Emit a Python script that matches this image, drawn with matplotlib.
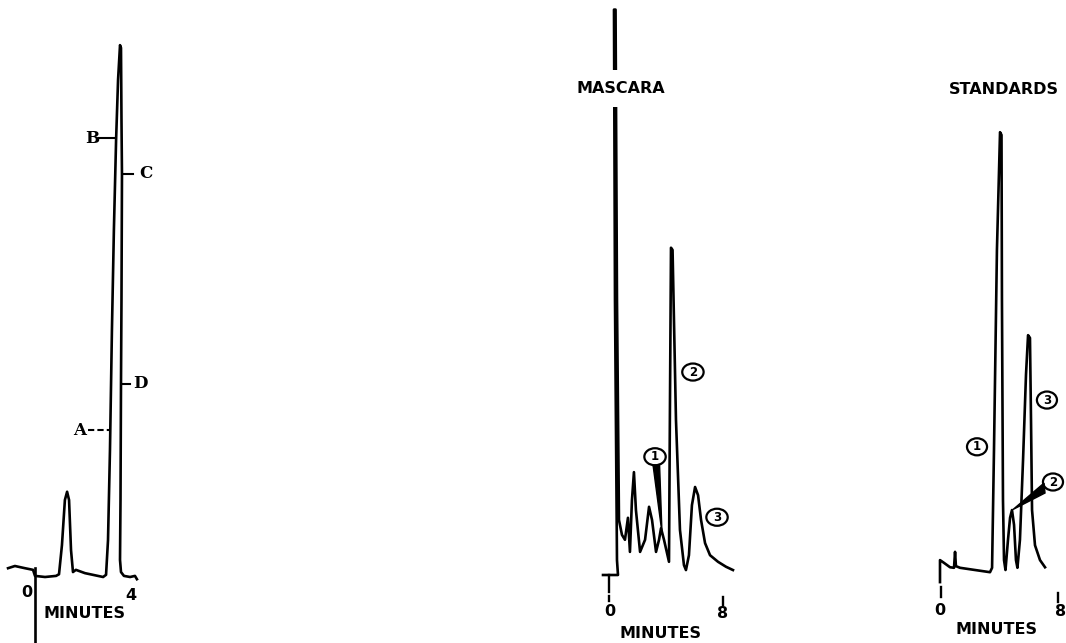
import matplotlib.pyplot as plt
from matplotlib.patches import Ellipse, Polygon

W, H = 1066, 643

# --- trace data: time in minutes, detector signal in chart units ---
p1_time = [-1.10, -0.82, -0.41, -0.08, 0.0, 0.41, 0.86, 0.98, 1.10, 1.22, 1.31,
           1.39, 1.47, 1.55, 1.67, 2.04, 2.78, 2.90, 2.98, 3.06, 3.14, 3.22,
           3.31, 3.39, 3.47, 3.51, 3.53, 3.55, 3.53, 3.51, 3.49, 3.47, 3.51,
           3.63, 3.88, 4.08, 4.16]
p1_signal = [1.6, 2.0, 1.6, 1.3, 0.2, 0.0, 0.2, 0.5, 5.8, 14.0, 15.5,
             14.0, 4.9, 0.9, 1.3, 0.7, 0.0, 0.4, 6.7, 23.1, 44.9, 63.1,
             79.5, 90.4, 96.7, 96.2, 83.1, 73.1, 50.4, 35.3, 14.0, 3.1, 0.9,
             0.2, 0.0, 0.2, -0.4]

mascara_time = [-0.42, 0.63, 0.56, 0.42, 0.35, 0.46, 0.56, 0.70, 0.91, 1.12,
                1.33, 1.47, 1.61, 1.75, 1.89, 2.18, 2.53, 2.81, 3.02, 3.30,
                3.51, 3.65, 3.86, 4.21, 4.28, 4.35, 4.46, 4.70, 4.98, 5.26,
                5.40, 5.61, 5.82, 6.04, 6.25, 6.46, 6.74, 7.09, 7.65, 8.21, 8.70]
mascara_signal = [0, 0, 2.7, 50, 102.8, 102.8, 50, 10.0, 7.3, 6.4,
                  10.4, 4.2, 13.6, 18.7, 11.8, 4.2, 6.4, 12.4, 10.0, 4.2,
                  6.4, 8.5, 6.4, 2.4, 31.8, 59.5, 59.1, 28.2, 8.2, 1.8,
                  0.9, 3.6, 12.7, 16.0, 14.5, 10.0, 5.8, 3.6, 2.4, 1.5, 0.9]

std_time = [0, 0, 0.27, 0.68, 0.95, 1.02, 1.08, 1.36, 2.37, 3.39, 3.53, 3.66,
            3.86, 4.07, 4.17, 4.20, 4.27, 4.34, 4.44, 4.61, 4.75, 4.88, 5.02,
            5.15, 5.25, 5.42, 5.63, 5.83, 5.97, 6.10, 6.17, 6.24, 6.44, 6.78, 7.12]
std_signal = [-2.2, 1.8, 1.3, 0.5, 0.4, 3.3, 0.7, 0.4, 0, -0.4, 0.4, 21.8,
              58.2, 79.6, 79.1, 49.1, 12.7, 1.8, 0, 5.5, 9.5, 10.9, 8.2,
              1.8, 0.4, 5.5, 20.0, 35.5, 42.7, 42.2, 27.3, 10.9, 4.5, 1.8, 0.5]

# --- annotations ---
p1_marks = ["A", "B", "C", "D"]
p1_mark_xy = [(1.84, 26.7), (2.33, 79.8), (4.53, 73.3), (4.29, 35.1)]
p1_mark_dash = [(2.16, 3.06), (2.61, 3.27), (3.63, 4.00), (3.55, 3.88)]

mascara_peaks = ["1", "2", "3"]
mascara_peak_xy = [(3.23, 21.5), (5.89, 36.9), (7.58, 10.5)]
std_peaks = ["1", "2", "3"]
std_peak_xy = [(2.51, 22.4), (7.66, 16.0), (7.25, 30.9)]

fig = plt.figure(figsize=(W / 100, H / 100), dpi=100)
fig.patch.set_facecolor("white")


def panel_axes(x0_px, px_per_min, y0_px, px_per_unit):
    ax = fig.add_axes([0, 0, 1, 1])
    ax.set_xlim(-x0_px / px_per_min, (W - x0_px) / px_per_min)
    ax.set_ylim((y0_px - H) / px_per_unit, y0_px / px_per_unit)
    ax.axis("off")
    ax.patch.set_alpha(0)
    return ax


lw = 1.9
sans = dict(family="DejaVu Sans", weight="bold", fontsize=11.5, color="black")
serif = dict(family="DejaVu Serif", weight="bold", fontsize=12, color="black")
digit = dict(family="DejaVu Sans", weight="bold", fontsize=8.5,
             ha="center", va="center")

# ---------------- left panel ----------------
ax1 = panel_axes(35, 24.5, 577, 5.5)
ax1.plot(p1_time, p1_signal, color="black", lw=lw, solid_joinstyle="round")
ax1.plot([0, 0], [1.6, -13], color="black", lw=lw)
for lab, (x, y), (d0, d1) in zip(p1_marks, p1_mark_xy, p1_mark_dash):
    ax1.text(x, y, lab, ha="center", va="center", **serif)
    if lab == "A":
        ax1.plot([d0, d1], [y, y], color="black", lw=1.5, dashes=(3, 1.5))
    else:
        ax1.plot([d0, d1], [y, y], color="black", lw=1.5)
ax1.text(-0.33, -2.8, "0", ha="center", va="center", **sans)
ax1.text(3.92, -3.3, "4", ha="center", va="center", **sans)
ax1.text(2.04, -6.6, "MINUTES", ha="center", va="center", **sans)

# ---------------- mascara ----------------
ax2 = panel_axes(609, 14.25, 575, 5.5)
ax2.plot(mascara_time, mascara_signal, color="black", lw=lw,
         solid_joinstyle="round")
ax2.text(0.84, 88.5, "MASCARA", ha="center", va="center", zorder=5,
         bbox=dict(boxstyle="square,pad=0.7", fc="white", ec="none"), **sans)
ax2.plot([0, 0], [0, -3.1], color="black", lw=1.7)
ax2.plot([0, 0], [-3.9, -4.7], color="black", lw=1.7)
ax2.plot([8, 8], [-4.0, -5.4], color="black", lw=1.7)
ax2.text(0.07, -6.7, "0", ha="center", va="center", **sans)
ax2.text(8.0, -7.0, "8", ha="center", va="center", **sans)
ax2.text(3.58, -10.6, "MINUTES", ha="center", va="center", **sans)
for lab, (x, y) in zip(mascara_peaks, mascara_peak_xy):
    ax2.add_patch(Ellipse((x, y), 1.5, 3.1, fill=False, lw=1.6, color="black"))
    ax2.text(x, y, lab, **digit)
ax2.add_patch(Polygon([(3.09, 20.0), (3.55, 20.0), (3.72, 7.6)],
                      closed=True, color="black"))

# ---------------- standards ----------------
ax3 = panel_axes(940, 14.75, 570, 5.5)
ax3.plot(std_time, std_signal, color="black", lw=lw, solid_joinstyle="round")
ax3.text(4.3, 87.3, "STANDARDS", ha="center", va="center", **sans)
ax3.plot([0.05, 0.05], [-3.1, -4.9], color="black", lw=1.7)
ax3.plot([8.0, 8.0], [-4.2, -5.8], color="black", lw=1.7)
ax3.text(0.0, -7.3, "0", ha="center", va="center", **sans)
ax3.text(8.14, -7.6, "8", ha="center", va="center", **sans)
ax3.text(3.8, -10.9, "MINUTES", ha="center", va="center", **sans)
for lab, (x, y) in zip(std_peaks, std_peak_xy):
    ax3.add_patch(Ellipse((x, y), 1.36, 3.1, fill=False, lw=1.6, color="black"))
    ax3.text(x, y, lab, **digit)
ax3.add_patch(Polygon([(7.05, 15.8), (7.12, 14.0), (4.95, 11.0)],
                      closed=True, color="black"))

fig.savefig("out.png", dpi=100)
